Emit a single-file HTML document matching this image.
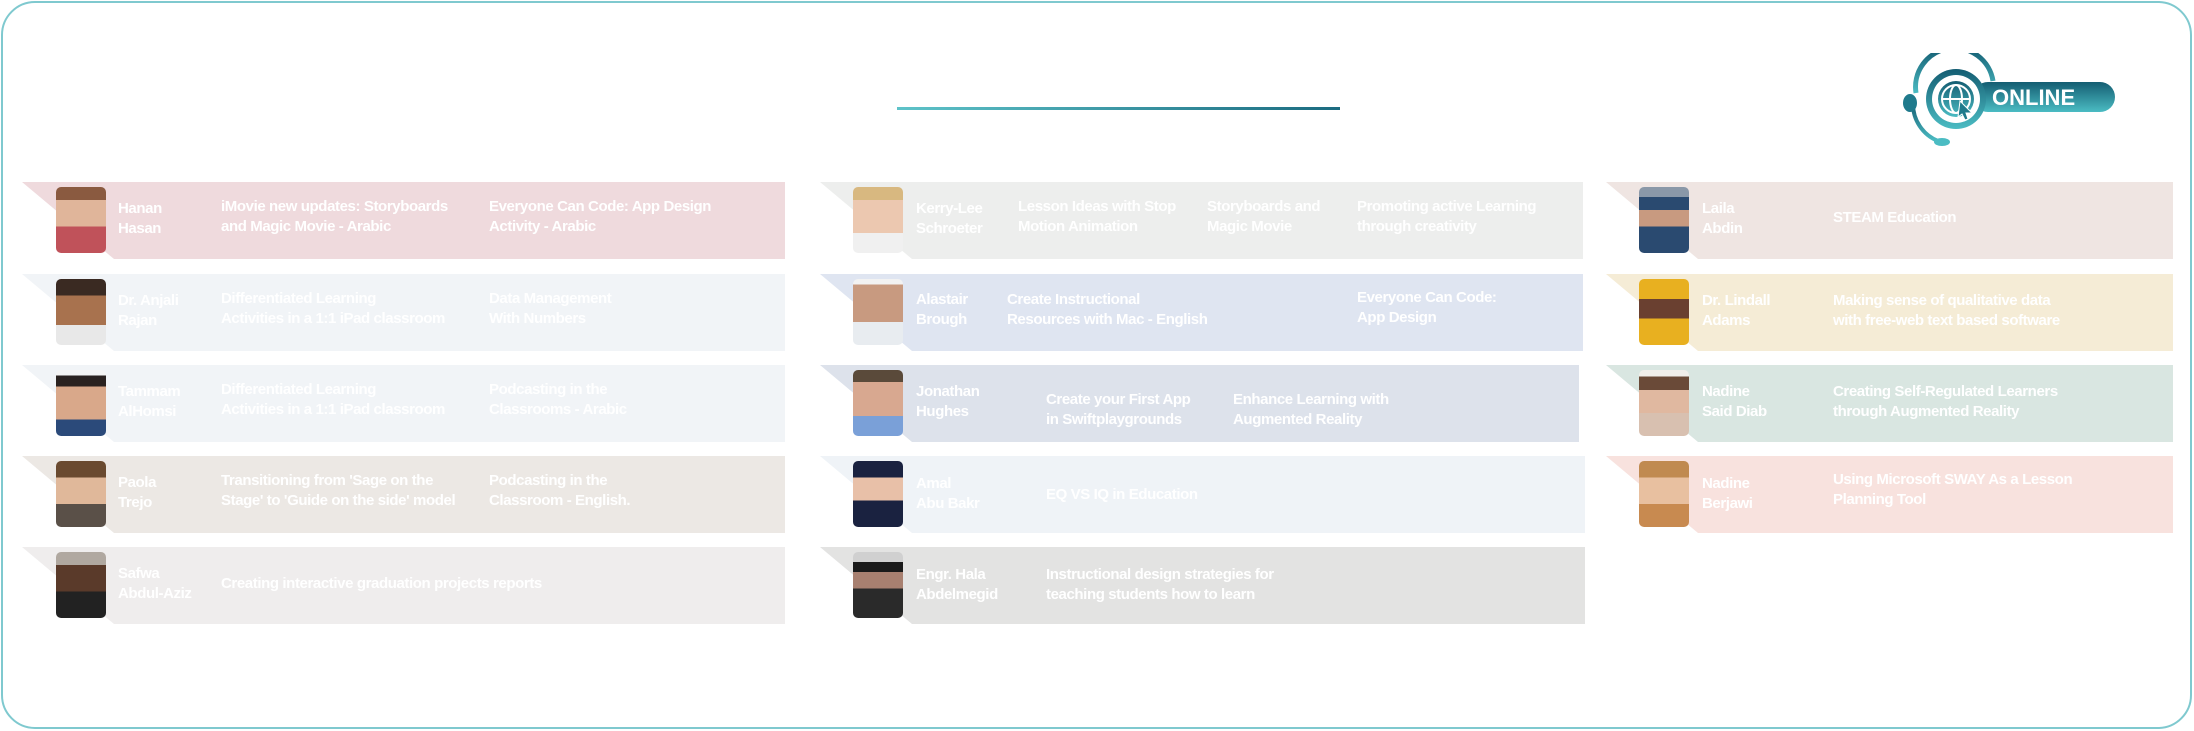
<!DOCTYPE html>
<html><head><meta charset="utf-8"><style>
*{margin:0;padding:0;box-sizing:border-box}
body{width:2194px;height:731px;background:#fff;position:relative;overflow:hidden;font-family:"Liberation Sans",sans-serif}
.frame{position:absolute;left:1px;top:1px;width:2191px;height:728px;border:2px solid #7fc9cf;border-radius:34px}
.title{position:absolute;left:897px;top:107px;width:443px;height:3px;background:linear-gradient(90deg,#5ec3c9,#1b6b80)}
.bar{position:absolute;height:77px;clip-path:polygon(0 0,100% 0,100% 100%,92px 100%)}
.ph{position:absolute;width:50px;height:66px;border-radius:5px;overflow:hidden}
.t{position:absolute;color:#fff;font-weight:bold;font-size:15px;line-height:20px;letter-spacing:-0.4px;white-space:nowrap}
</style></head><body>
<div class="frame"></div>
<div class="title"></div>
<svg style="position:absolute;left:1898px;top:53px" width="230" height="100" viewBox="0 0 230 100">
<defs><linearGradient id="g" x1="0" y1="0" x2="0" y2="1"><stop offset="0" stop-color="#145d72"/><stop offset="1" stop-color="#4bbcc3"/></linearGradient></defs>
<path d="M18 40 A38 38 0 0 1 95 28" stroke="url(#g)" stroke-width="5" fill="none"/>
<path d="M15 50 A40 40 0 0 0 40 88" stroke="url(#g)" stroke-width="4" fill="none"/>
<ellipse cx="44" cy="89" rx="8" ry="4" fill="#4bbcc3"/>
<ellipse cx="12" cy="50" rx="7" ry="9" fill="#1f7a8c"/>
<rect x="75" y="29" width="142" height="30" rx="15" fill="url(#g)"/>
<circle cx="58" cy="46" r="30" fill="url(#g)"/>
<circle cx="58" cy="46" r="24" fill="#fff"/>
<circle cx="58" cy="46" r="18" fill="url(#g)"/>
<circle cx="58" cy="46" r="14" fill="none" stroke="#fff" stroke-width="2"/>
<ellipse cx="58" cy="46" rx="6" ry="14" fill="none" stroke="#fff" stroke-width="2"/>
<line x1="44" y1="46" x2="72" y2="46" stroke="#fff" stroke-width="2"/>
<path d="M62 48 L74 60 L68 60 L70 66 L67 67 L64 61 L60 64 Z" fill="#1f7a8c" stroke="#fff" stroke-width="1"/>
<text x="94" y="52" font-family="Liberation Sans" font-weight="bold" font-size="22" fill="#fff">ONLINE</text>
</svg>

<!-- Column 1 -->
<div class="bar" style="left:22px;top:182px;width:763px;background:#efdadd"></div>
<div class="bar" style="left:22px;top:274px;width:763px;background:#f1f4f7"></div>
<div class="bar" style="left:22px;top:365px;width:763px;background:#f1f4f7"></div>
<div class="bar" style="left:22px;top:456px;width:763px;background:#ece8e4"></div>
<div class="bar" style="left:22px;top:547px;width:763px;background:#efeded"></div>

<div class="ph" style="left:56px;top:187px;background:linear-gradient(#8a5a40 0 20%,#e0b59a 20% 60%,#c0525a 60%)"></div>
<div class="ph" style="left:56px;top:279px;background:linear-gradient(#3a2a22 0 25%,#a8724e 25% 70%,#e8e8e8 70%)"></div>
<div class="ph" style="left:56px;top:370px;background:linear-gradient(#f4f4f4 0 8%,#2a2220 8% 25%,#d9a88a 25% 75%,#2b4a7a 75%)"></div>
<div class="ph" style="left:56px;top:461px;background:linear-gradient(#6a4a30 0 25%,#e0b89a 25% 65%,#5a5048 65%)"></div>
<div class="ph" style="left:56px;top:552px;background:linear-gradient(#b0a8a0 0 20%,#5a3a2a 20% 60%,#222 60%)"></div>

<div class="t" style="left:118px;top:199px">Hanan<br>Hasan</div>
<div class="t" style="left:221px;top:197px">iMovie new updates: Storyboards<br>and Magic Movie - Arabic</div>
<div class="t" style="left:489px;top:197px">Everyone Can Code: App Design<br>Activity - Arabic</div>

<div class="t" style="left:118px;top:291px">Dr. Anjali<br>Rajan</div>
<div class="t" style="left:221px;top:289px">Differentiated Learning<br>Activities in a 1:1 iPad classroom</div>
<div class="t" style="left:489px;top:289px">Data Management<br>With Numbers</div>

<div class="t" style="left:118px;top:382px">Tammam<br>AlHomsi</div>
<div class="t" style="left:221px;top:380px">Differentiated Learning<br>Activities in a 1:1 iPad classroom</div>
<div class="t" style="left:489px;top:380px">Podcasting in the<br>Classrooms - Arabic</div>

<div class="t" style="left:118px;top:473px">Paola<br>Trejo</div>
<div class="t" style="left:221px;top:471px">Transitioning from 'Sage on the<br>Stage' to 'Guide on the side' model</div>
<div class="t" style="left:489px;top:471px">Podcasting in the<br>Classroom - English.</div>

<div class="t" style="left:118px;top:564px">Safwa<br>Abdul-Aziz</div>
<div class="t" style="left:221px;top:574px">Creating interactive graduation projects reports</div>

<!-- Column 2 -->
<div class="bar" style="left:820px;top:182px;width:763px;background:#edeeed"></div>
<div class="bar" style="left:820px;top:274px;width:763px;background:#dfe5f1"></div>
<div class="bar" style="left:820px;top:365px;width:759px;background:#dde2eb"></div>
<div class="bar" style="left:820px;top:456px;width:765px;background:#eff3f7"></div>
<div class="bar" style="left:820px;top:547px;width:765px;background:#e3e3e2"></div>

<div class="ph" style="left:853px;top:187px;background:linear-gradient(#d8b880 0 20%,#ecc8b0 20% 70%,#f0f0f0 70%)"></div>
<div class="ph" style="left:853px;top:279px;background:linear-gradient(#f2f2f2 0 8%,#c89a80 8% 65%,#e8ecf0 65%)"></div>
<div class="ph" style="left:853px;top:370px;background:linear-gradient(#5a4a3a 0 18%,#d8a890 18% 70%,#7aa0d8 70%)"></div>
<div class="ph" style="left:853px;top:461px;background:linear-gradient(#1a2240 0 25%,#e8c0a8 25% 60%,#1a2240 60%)"></div>
<div class="ph" style="left:853px;top:552px;background:linear-gradient(#d0d0d0 0 15%,#1a1a1a 15% 30%,#a88070 30% 55%,#2a2a2a 55%)"></div>

<div class="t" style="left:916px;top:199px">Kerry-Lee<br>Schroeter</div>
<div class="t" style="left:1018px;top:197px">Lesson Ideas with Stop<br>Motion Animation</div>
<div class="t" style="left:1207px;top:197px">Storyboards and<br>Magic Movie</div>
<div class="t" style="left:1357px;top:197px">Promoting active Learning<br>through creativity</div>

<div class="t" style="left:916px;top:290px">Alastair<br>Brough</div>
<div class="t" style="left:1007px;top:290px">Create Instructional<br>Resources with Mac - English</div>
<div class="t" style="left:1357px;top:288px">Everyone Can Code:<br>App Design</div>

<div class="t" style="left:916px;top:382px">Jonathan<br>Hughes</div>
<div class="t" style="left:1046px;top:390px">Create your First App<br>in Swiftplaygrounds</div>
<div class="t" style="left:1233px;top:390px">Enhance Learning with<br>Augmented Reality</div>

<div class="t" style="left:916px;top:474px">Amal<br>Abu Bakr</div>
<div class="t" style="left:1046px;top:485px">EQ VS IQ in Education</div>

<div class="t" style="left:916px;top:565px">Engr. Hala<br>Abdelmegid</div>
<div class="t" style="left:1046px;top:565px">Instructional design strategies for<br>teaching students how to learn</div>

<!-- Column 3 -->
<div class="bar" style="left:1606px;top:182px;width:567px;background:#efe5e2"></div>
<div class="bar" style="left:1606px;top:274px;width:567px;background:#f5ecd6"></div>
<div class="bar" style="left:1606px;top:365px;width:567px;background:#d9e6e1"></div>
<div class="bar" style="left:1606px;top:456px;width:567px;background:#f8e2de"></div>

<div class="ph" style="left:1639px;top:187px;background:linear-gradient(#8a98a8 0 15%,#2a4a70 15% 35%,#c89a80 35% 60%,#2a4a70 60%)"></div>
<div class="ph" style="left:1639px;top:279px;background:linear-gradient(#e8b020 0 30%,#6a4030 30% 60%,#e8b020 60%)"></div>
<div class="ph" style="left:1639px;top:370px;background:linear-gradient(#f0eeea 0 10%,#6a4a38 10% 30%,#e0b8a0 30% 65%,#d8c0b0 65%)"></div>
<div class="ph" style="left:1639px;top:461px;background:linear-gradient(#c08a50 0 25%,#e8c0a0 25% 65%,#c88a50 65%)"></div>

<div class="t" style="left:1702px;top:199px">Laila<br>Abdin</div>
<div class="t" style="left:1833px;top:208px">STEAM Education</div>

<div class="t" style="left:1702px;top:291px">Dr. Lindall<br>Adams</div>
<div class="t" style="left:1833px;top:291px">Making sense of qualitative data<br>with free-web text based software</div>

<div class="t" style="left:1702px;top:382px">Nadine<br>Said Diab</div>
<div class="t" style="left:1833px;top:382px">Creating Self-Regulated Learners<br>through Augmented Reality</div>

<div class="t" style="left:1702px;top:474px">Nadine<br>Berjawi</div>
<div class="t" style="left:1833px;top:470px">Using Microsoft SWAY As a Lesson<br>Planning Tool</div>
</body></html>
